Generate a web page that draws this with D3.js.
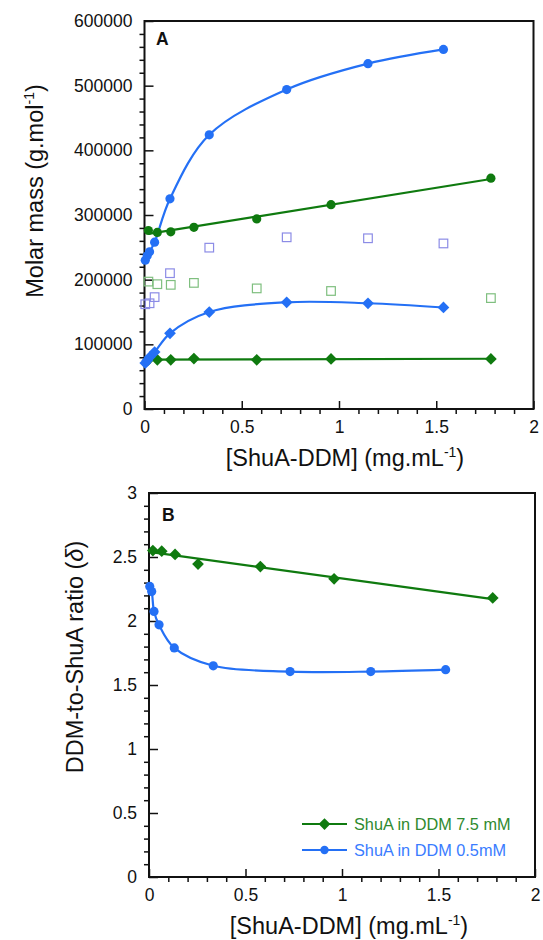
<!DOCTYPE html>
<html>
<head>
<meta charset="utf-8">
<script src="https://cdn.jsdelivr.net/npm/d3@7"></script>
<style>
  body { margin: 0; background: #fff; }
  svg text { font-family: "Liberation Sans", Arial, sans-serif; fill: #111; }
</style>
</head>
<body>
<svg width="543" height="940"></svg>
<script>
// concentrations [ShuA-DDM] (mg/mL)
const concLow = [0.004, 0.014, 0.026, 0.052, 0.131, 0.333, 0.731, 1.149, 1.537];   // DDM 0.5 mM
const concHigh = [0.02, 0.066, 0.135, 0.254, 0.577, 0.959, 1.781];                  // DDM 7.5 mM

// panel A : molar mass (g/mol)
const massLowCircle = [230000, 237000, 243000, 258000, 325000, 424000, 494000, 534000, 556000];
const massLowDiamond = [71000, 75000, 80000, 88000, 117000, 150000, 165000, 163500, 157000];
const massHighCircle = [276000, 273000, 274000, 281000, 294000, 316000, 357000];
const massHighDiamond = [76000, 76000, 76000, 78000, 76000, 77500, 77500];
// open squares
const sqLowConc = [0.004, 0.026, 0.052, 0.131, 0.333, 0.731, 1.149, 1.537];
const sqLowMass = [162000, 163500, 173000, 210000, 249500, 265500, 264000, 256000];
const sqHighMass = [197000, 193000, 192000, 195000, 186500, 182500, 171500];

// panel B : DDM-to-ShuA ratio
const ratioHigh = [2.55, 2.545, 2.52, 2.445, 2.425, 2.33, 2.18];
const ratioLow = [2.27, 2.23, 2.075, 1.97, 1.79, 1.65, 1.605, 1.605, 1.62];

const legendLabels = ["ShuA in DDM 7.5 mM", "ShuA in DDM 0.5mM"];

const green = "#0f7a0f", blue = "#2470f5";
const sqBlue = "#8c8ce6", sqGreen = "#7fbf7f";

const svg = d3.select("svg");

const diamond = d3.symbol().type(d3.symbolDiamond2).size(88);
const smooth = d3.curveCatmullRom.alpha(0.5);
const zip = (xs, ys) => xs.map((x, i) => ({ x, y: ys[i] }));

// droite des moindres carrés
function fitLine(pts) {
    const mx = d3.mean(pts, d => d.x), my = d3.mean(pts, d => d.y);
    const b = d3.sum(pts, d => (d.x - mx) * (d.y - my)) / d3.sum(pts, d => (d.x - mx) ** 2);
    const a = my - b * mx;
    const x0 = d3.min(pts, d => d.x), x1 = d3.max(pts, d => d.x);
    return [{ x: x0, y: a + b * x0 }, { x: x1, y: a + b * x1 }];
}

function panel(box, yDomain, yMajor, yMinorStep) {
    const x = d3.scaleLinear().domain([0, 2]).range([box.left, box.right]);
    const y = d3.scaleLinear().domain(yDomain).range([box.bottom, box.top]);
    const g = svg.append("g");

    const xMajor = d3.range(0, 2.01, 0.5);
    const xMinor = d3.range(0, 2.001, 0.1).filter(v => Math.abs(v * 2 - Math.round(v * 2)) > 1e-6);
    const yMinor = d3.range(yDomain[0], yDomain[1] + 1e-9, yMinorStep)
        .filter(v => !yMajor.some(m => Math.abs(m - v) < yMinorStep / 10));

    // ticks
    g.append("g").attr("transform", `translate(0,${box.bottom})`)
        .call(d3.axisBottom(x).tickValues(xMajor).tickSize(-8).tickPadding(12).tickFormat(d3.format("")));
    g.append("g").attr("transform", `translate(0,${box.bottom})`)
        .call(d3.axisBottom(x).tickValues(xMinor).tickSize(5).tickFormat(""));
    g.append("g").attr("transform", `translate(${box.left},0)`)
        .call(d3.axisLeft(y).tickValues(yMajor).tickSize(-9).tickPadding(12).tickFormat(d3.format("")));
    g.append("g").attr("transform", `translate(${box.left},0)`)
        .call(d3.axisLeft(y).tickValues(yMinor).tickSize(5).tickFormat(""));

    g.selectAll(".domain").remove();
    g.selectAll(".tick line").attr("stroke", "#111").attr("stroke-width", 1.5);
    g.selectAll(".tick text").style("font-size", "17.5px").attr("fill", "#111");

    g.append("rect")
        .attr("x", box.left).attr("y", box.top)
        .attr("width", box.right - box.left).attr("height", box.bottom - box.top)
        .attr("fill", "none").attr("stroke", "#111").attr("stroke-width", 2);

    return { x, y, g };
}

function drawLine(p, pts, color, curve) {
    p.g.append("path")
        .datum(pts)
        .attr("fill", "none").attr("stroke", color).attr("stroke-width", 2.2)
        .attr("d", d3.line().x(d => p.x(d.x)).y(d => p.y(d.y)).curve(curve || d3.curveLinear));
}
function drawCircles(p, pts, color) {
    p.g.selectAll(null).data(pts).enter().append("circle")
        .attr("cx", d => p.x(d.x)).attr("cy", d => p.y(d.y)).attr("r", 4.6).attr("fill", color);
}
function drawDiamonds(p, pts, color) {
    p.g.selectAll(null).data(pts).enter().append("path")
        .attr("d", diamond)
        .attr("transform", d => `translate(${p.x(d.x)},${p.y(d.y)})`)
        .attr("fill", color);
}
function drawSquares(p, pts, color) {
    p.g.selectAll(null).data(pts).enter().append("rect")
        .attr("x", d => p.x(d.x) - 4.3).attr("y", d => p.y(d.y) - 4.3)
        .attr("width", 8.6).attr("height", 8.6)
        .attr("fill", "none").attr("stroke", color).attr("stroke-width", 1.2);
}

// ---------- Panel A ----------
const pA = panel({ left: 144.5, right: 533.5, top: 21, bottom: 409 },
    [0, 600000], d3.range(0, 600001, 100000), 20000);

drawSquares(pA, zip(sqLowConc, sqLowMass), sqBlue);
drawSquares(pA, zip(concHigh, sqHighMass), sqGreen);

drawLine(pA, fitLine(zip(concHigh, massHighCircle)), green);
drawLine(pA, fitLine(zip(concHigh, massHighDiamond)), green);
drawLine(pA, zip(concLow, massLowCircle), blue, smooth);
drawLine(pA, zip(concLow, massLowDiamond), blue, smooth);

drawCircles(pA, zip(concHigh, massHighCircle), green);
drawDiamonds(pA, zip(concHigh, massHighDiamond), green);
drawCircles(pA, zip(concLow, massLowCircle), blue);
drawDiamonds(pA, zip(concLow, massLowDiamond), blue);

svg.append("text").attr("x", 156).attr("y", 45)
    .style("font-size", "17.5px").style("font-weight", "bold").text("A");

const yTitleA = svg.append("text")
    .attr("transform", "translate(43,191) rotate(-90)")
    .attr("text-anchor", "middle").style("font-size", "23.5px");
yTitleA.append("tspan").text("Molar mass (g.mol");
yTitleA.append("tspan").attr("dy", -9).style("font-size", "14px").text("-1");
yTitleA.append("tspan").attr("dy", 9).text(")");

function xTitle(cx, base) {
    const t = svg.append("text").attr("x", cx).attr("y", base)
        .attr("text-anchor", "middle").style("font-size", "23.5px");
    t.append("tspan").text("[ShuA-DDM] (mg.mL");
    t.append("tspan").attr("dy", -9).style("font-size", "14px").text("-1");
    t.append("tspan").attr("dy", 9).text(")");
}
xTitle(345, 466);

// ---------- Panel B ----------
const pB = panel({ left: 149, right: 535, top: 493, bottom: 877 },
    [0, 3], d3.range(0, 3.01, 0.5), 0.1);

drawLine(pB, fitLine(zip(concHigh, ratioHigh)), green);
drawLine(pB, zip(concLow, ratioLow), blue, smooth);
drawDiamonds(pB, zip(concHigh, ratioHigh), green);
drawCircles(pB, zip(concLow, ratioLow), blue);

svg.append("text").attr("x", 162).attr("y", 521)
    .style("font-size", "17.5px").style("font-weight", "bold").text("B");

const yTitleB = svg.append("text")
    .attr("transform", "translate(83,657) rotate(-90)")
    .attr("text-anchor", "middle").style("font-size", "23.5px");
yTitleB.append("tspan").text("DDM-to-ShuA ratio (");
yTitleB.append("tspan").style("font-style", "italic").text("δ");
yTitleB.append("tspan").text(")");

xTitle(349, 934);

// legend
const legend = svg.append("g");
[green, blue].forEach((c, i) => {
    const ly = 824 + i * 26;
    legend.append("line").attr("x1", 302).attr("x2", 347).attr("y1", ly).attr("y2", ly)
        .attr("stroke", c).attr("stroke-width", 2);
    if (i === 0) {
        legend.append("path").attr("d", diamond).attr("transform", `translate(324.5,${ly})`).attr("fill", c);
    } else {
        legend.append("circle").attr("cx", 324.5).attr("cy", ly).attr("r", 4.2).attr("fill", c);
    }
    legend.append("text").attr("x", 354).attr("y", ly + 5.5)
        .style("font-size", "16.3px").style("fill", i === 0 ? "#2f8a2f" : "#3a7cff")
        .text(legendLabels[i]);
});
</script>
</body>
</html>
